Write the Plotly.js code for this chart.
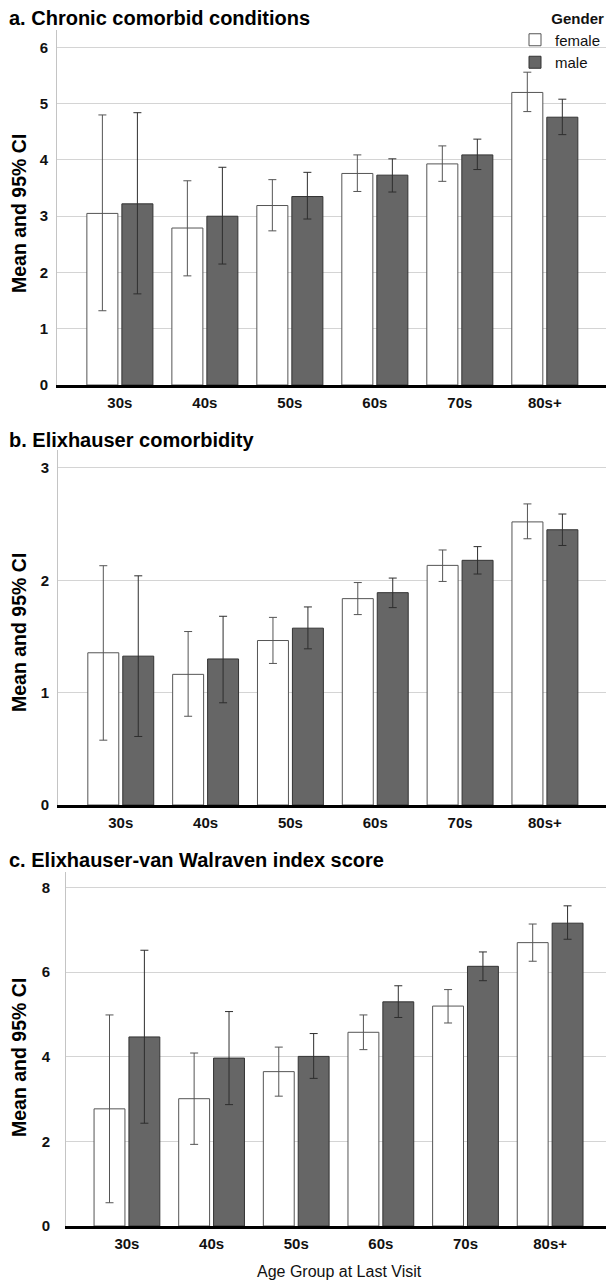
<!DOCTYPE html>
<html>
<head>
<meta charset="utf-8">
<script src="https://cdn.plot.ly/plotly-3.0.1.min.js"></script>
<style>html,body{margin:0;padding:0;background:#fff;}#chart{width:606px;height:1281px;}</style>
</head>
<body>
<div id="chart"></div>
<script>
// ---- data ----
const categories = ['30s','40s','50s','60s','70s','80s+'];

const chronicFemale   = [3.05, 2.79, 3.19, 3.76, 3.93, 5.20];
const chronicFemaleLo = [1.32, 1.94, 2.74, 3.44, 3.62, 4.86];
const chronicFemaleHi = [4.80, 3.63, 3.65, 4.09, 4.25, 5.56];
const chronicMale     = [3.22, 3.00, 3.35, 3.73, 4.09, 4.76];
const chronicMaleLo   = [1.62, 2.15, 2.95, 3.43, 3.83, 4.45];
const chronicMaleHi   = [4.84, 3.87, 3.78, 4.02, 4.37, 5.08];

const elixFemale   = [1.355, 1.163, 1.464, 1.837, 2.133, 2.52];
const elixFemaleLo = [0.577, 0.79, 1.26, 1.695, 1.99, 2.37];
const elixFemaleHi = [2.13, 1.544, 1.67, 1.98, 2.27, 2.68];
const elixMale     = [1.325, 1.30, 1.574, 1.89, 2.178, 2.45];
const elixMaleLo   = [0.61, 0.91, 1.39, 1.757, 2.056, 2.31];
const elixMaleHi   = [2.04, 1.68, 1.763, 2.02, 2.30, 2.59];

const vwFemale   = [2.77, 3.01, 3.65, 4.58, 5.20, 6.70];
const vwFemaleLo = [0.55, 1.93, 3.07, 4.17, 4.80, 6.26];
const vwFemaleHi = [4.99, 4.09, 4.23, 4.99, 5.59, 7.14];
const vwMale     = [4.47, 3.97, 4.01, 5.30, 6.14, 7.16];
const vwMaleLo   = [2.43, 2.87, 3.49, 4.93, 5.80, 6.78];
const vwMaleHi   = [6.52, 5.07, 4.55, 5.68, 6.48, 7.57];

const seriesNames = ['female', 'male'];
const panelTitles = ['a. Chronic comorbid conditions', 'b. Elixhauser comorbidity', 'c. Elixhauser-van Walraven index score'];
const yTitle = 'Mean and 95% CI';
const xTitle = 'Age Group at Last Visit';

// ---- helpers ----
const W = 606, H = 1281;
const FONT = 'Liberation Sans, Arial, sans-serif';
const diff = (a, b) => a.map((v, i) => v - b[i]);

function barTrace(name, means, lo, hi, xa, ya, isMale, showLegend) {
  return {
    type: 'bar', name: name, x: categories, y: means, xaxis: xa, yaxis: ya,
    legendgroup: name, showlegend: showLegend,
    marker: {color: isMale ? '#666666' : '#ffffff', line: {color: isMale ? '#333333' : '#555555', width: 1}},
    error_y: {type: 'data', symmetric: false, array: diff(hi, means), arrayminus: diff(means, lo),
              color: isMale ? '#2e2e2e' : '#555555', thickness: 1, width: 4},
    hoverinfo: 'x+y'
  };
}

const data = [
  barTrace(seriesNames[0], chronicFemale, chronicFemaleLo, chronicFemaleHi, 'x', 'y', false, true),
  barTrace(seriesNames[1], chronicMale, chronicMaleLo, chronicMaleHi, 'x', 'y', true, true),
  barTrace(seriesNames[0], elixFemale, elixFemaleLo, elixFemaleHi, 'x2', 'y2', false, false),
  barTrace(seriesNames[1], elixMale, elixMaleLo, elixMaleHi, 'x2', 'y2', true, false),
  barTrace(seriesNames[0], vwFemale, vwFemaleLo, vwFemaleHi, 'x3', 'y3', false, false),
  barTrace(seriesNames[1], vwMale, vwMaleLo, vwMaleHi, 'x3', 'y3', true, false)
];

const py = px => 1 - px / H;

function xAxis(left, range, anchor) {
  return {
    domain: [left / W, 1], anchor: anchor, type: 'category', range: range,
    showline: true, linecolor: '#000000', linewidth: 2.5, showgrid: false, zeroline: false,
    ticks: 'outside', ticklen: 2, tickcolor: 'rgba(0,0,0,0)',
    tickfont: {family: FONT, size: 15, color: '#111111', weight: 'bold'}, fixedrange: true
  };
}
function yAxis(top, bottom, range, dtick, anchor, standoff) {
  return {
    domain: [py(bottom), py(top)], anchor: anchor, range: range, dtick: dtick,
    showline: true, linecolor: '#c4c4c4', linewidth: 1,
    showgrid: true, gridcolor: '#d4d4d4', gridwidth: 1, zeroline: false,
    ticks: 'outside', ticklen: standoff, tickcolor: 'rgba(0,0,0,0)',
    tickfont: {family: FONT, size: 15, color: '#111111', weight: 'bold'}, fixedrange: true
  };
}

const titleFont = {family: FONT, size: 20, color: '#000000', weight: 'bold'};
const annotations = [
  {text: panelTitles[0], x: 7 / W, y: py(18)},
  {text: panelTitles[1], x: 7 / W, y: py(440)},
  {text: panelTitles[2], x: 7 / W, y: py(860)}
].map(a => Object.assign(a, {xref: 'paper', yref: 'paper', xanchor: 'left', yanchor: 'middle', showarrow: false, font: titleFont}));

[214, 633, 1058].forEach(yc => annotations.push({
  text: yTitle, xref: 'paper', yref: 'paper', x: 19 / W, y: py(yc), textangle: -90,
  xanchor: 'center', yanchor: 'middle', showarrow: false,
  font: {family: FONT, size: 19.5, color: '#000000', weight: 'bold'}
}));
annotations.push({
  text: xTitle, xref: 'paper', yref: 'paper', x: 339 / W, y: py(1271),
  xanchor: 'center', yanchor: 'middle', showarrow: false,
  font: {family: FONT, size: 16, color: '#111111'}
});

const layout = {
  width: W, height: H, margin: {l: 0, r: 0, t: 0, b: 0},
  paper_bgcolor: '#ffffff', plot_bgcolor: '#ffffff',
  barmode: 'group', bargap: 0.176, bargroupgap: 0.114,
  font: {family: FONT, color: '#111111'},
  xaxis: xAxis(57, [-0.74, 5.72], 'y'),
  yaxis: yAxis(30, 385, [0, 6.31], 1, 'x', 5),
  xaxis2: xAxis(58, [-0.74, 5.72], 'y2'),
  yaxis2: yAxis(450, 805, [0, 3.16], 1, 'x2', 5),
  xaxis3: xAxis(66, [-0.72, 5.66], 'y3'),
  yaxis3: yAxis(872, 1226, [0, 8.37], 2, 'x3', 12),
  showlegend: true,
  legend: {
    x: 1, xanchor: 'right', y: py(4), yanchor: 'top',
    bgcolor: 'rgba(0,0,0,0)', borderwidth: 0,
    title: {text: '<b>Gender</b>', side: 'top right', font: {family: FONT, size: 15, color: '#111111'}},
    font: {family: FONT, size: 15, color: '#111111'},
    itemwidth: 30, tracegroupgap: 0, traceorder: 'normal'
  },
  annotations: annotations
};

Plotly.newPlot('chart', data, layout, {displayModeBar: false, staticPlot: true});
</script>
</body>
</html>
